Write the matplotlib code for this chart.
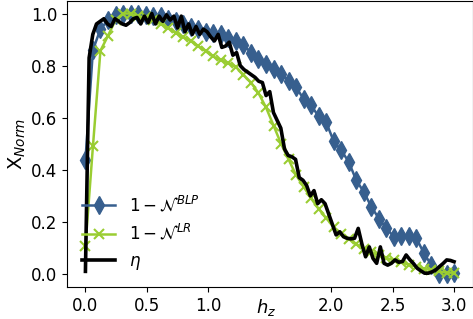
import numpy as np
import matplotlib
matplotlib.use("Agg")
import matplotlib.pyplot as plt

# field values for the marker curves
h_markers = [0.000, 0.061, 0.122, 0.184, 0.245, 0.306, 0.367, 0.429, 0.490, 0.551,
             0.612, 0.673, 0.735, 0.796, 0.857, 0.918, 0.980, 1.041, 1.102, 1.163,
             1.224, 1.286, 1.347, 1.408, 1.469, 1.531, 1.592, 1.653, 1.714, 1.776,
             1.837, 1.898, 1.959, 2.020, 2.082, 2.143, 2.204, 2.265, 2.327, 2.388,
             2.449, 2.510, 2.571, 2.633, 2.694, 2.755, 2.816, 2.878, 2.939, 3.000]

# 1 - N^BLP
blp = [0.437, 0.86, 0.94, 0.975, 0.995, 1.0, 1.0, 0.998, 0.995, 0.99,
       0.99, 0.98, 0.97, 0.96, 0.95, 0.94, 0.93, 0.925, 0.92, 0.907,
       0.895, 0.88, 0.85, 0.825, 0.806, 0.787, 0.768, 0.742, 0.717, 0.672,
       0.647, 0.605, 0.583, 0.51, 0.475, 0.43, 0.36, 0.315, 0.258, 0.213,
       0.175, 0.143, 0.146, 0.146, 0.137, 0.079, 0.034, 0.0, 0.0, 0.005]

# 1 - N^LR
lr = [0.107, 0.49, 0.857, 0.915, 0.975, 1.0, 1.0, 0.99, 0.985, 0.975,
      0.96, 0.945, 0.925, 0.91, 0.895, 0.875, 0.855, 0.835, 0.82, 0.81,
      0.795, 0.765, 0.735, 0.695, 0.64, 0.57, 0.50, 0.44, 0.38, 0.335,
      0.29, 0.25, 0.215, 0.18, 0.155, 0.135, 0.115, 0.095, 0.085, 0.072,
      0.062, 0.052, 0.045, 0.035, 0.028, 0.02, 0.015, 0.01, 0.005, 0.005]

# eta, finer sampling
h_eta = [0.00, 0.03, 0.06, 0.09, 0.12, 0.15, 0.18, 0.21, 0.24, 0.27,
         0.30, 0.33, 0.36, 0.39, 0.42, 0.45, 0.48, 0.51, 0.54, 0.57,
         0.60, 0.63, 0.66, 0.69, 0.72, 0.75, 0.78, 0.81, 0.84, 0.87,
         0.90, 0.93, 0.96, 0.99, 1.02, 1.05, 1.08, 1.11, 1.14, 1.17,
         1.20, 1.23, 1.26, 1.29, 1.32, 1.35, 1.38, 1.41, 1.44, 1.47,
         1.50, 1.53, 1.56, 1.59, 1.62, 1.65, 1.68, 1.71, 1.74, 1.77,
         1.80, 1.83, 1.86, 1.89, 1.92, 1.95, 1.98, 2.01, 2.04, 2.07,
         2.10, 2.13, 2.16, 2.19, 2.22, 2.25, 2.28, 2.31, 2.34, 2.37,
         2.40, 2.43, 2.46, 2.49, 2.52, 2.55, 2.58, 2.61, 2.64, 2.67,
         2.70, 2.73, 2.76, 2.79, 2.82, 2.85, 2.88, 2.91, 2.94, 2.97,
         3.00]
eta = [0.01, 0.83, 0.92, 0.96, 0.97, 0.98, 0.96, 0.95, 0.98, 0.97,
       0.96, 0.955, 0.965, 0.98, 0.985, 0.96, 0.99, 0.965, 1.0, 0.96,
       0.99, 0.97, 0.995, 0.975, 0.99, 0.945, 0.99, 0.93, 0.96, 0.92,
       0.95, 0.92, 0.94, 0.93, 0.91, 0.895, 0.92, 0.87, 0.875, 0.89,
       0.84, 0.85, 0.80, 0.785, 0.775, 0.765, 0.755, 0.74, 0.735, 0.685,
       0.70, 0.62, 0.59, 0.56, 0.48, 0.455, 0.45, 0.44, 0.37, 0.36,
       0.34, 0.30, 0.32, 0.27, 0.285, 0.27, 0.23, 0.19, 0.15, 0.162,
       0.143, 0.137, 0.135, 0.137, 0.175, 0.115, 0.066, 0.104, 0.06, 0.041,
       0.104, 0.041, 0.034, 0.041, 0.054, 0.045, 0.048, 0.073, 0.055, 0.04,
       0.022, 0.012, 0.003, 0.003, 0.008, 0.015, 0.028, 0.04, 0.054, 0.052,
       0.047]

xticks = [0.0, 0.5, 1.0, 2.0, 2.5, 3.0]

plt.rcParams.update({"font.size": 12})

fig = plt.figure(figsize=(4.73, 3.19), dpi=100)
ax = fig.add_axes([67 / 473, 32 / 319, 405.5 / 473, 286.5 / 319])

ax.plot(h_markers, blp, color="#375f8e", lw=1.8, marker="d", ms=9,
        label=r"$1-\mathcal{N}^{BLP}$")
ax.plot(h_markers, lr, color="#9acd32", lw=1.8, marker="x", ms=7, mew=1.5,
        label=r"$1-\mathcal{N}^{LR}$")
ax.plot(h_eta, eta, color="black", lw=2.6, label=r"$\eta$")

ax.set_xlim(-0.15, 3.15)
ax.set_ylim(-0.05, 1.05)
ax.set_xticks(xticks)
ax.set_ylabel(r"X$_{Norm}$", fontsize=14, labelpad=2)
ax.set_xlabel(r"$h_z$", fontsize=13)
ax.xaxis.set_label_coords(0.49, -0.035)

ax.legend(loc="lower left", frameon=False)

fig.savefig("out.png", dpi=100)
